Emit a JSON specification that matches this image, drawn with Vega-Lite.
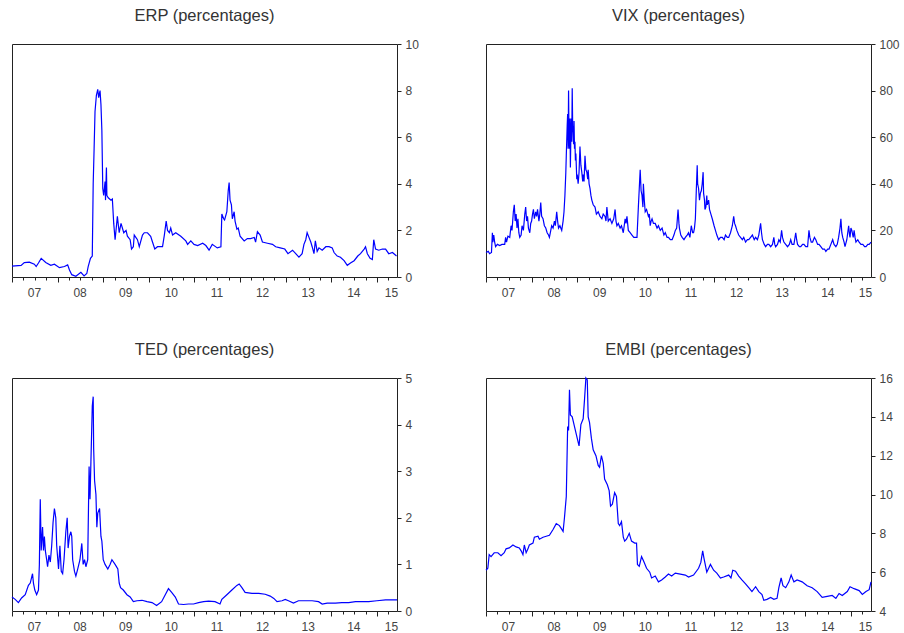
{
  "$schema": "https://vega.github.io/schema/vega-lite/v6.json",
  "padding": {"left": 9, "top": 7, "right": 5, "bottom": 5},
  "background": "white",
  "config": {
    "font": "Liberation Sans",
    "view": {"stroke": "#222222", "strokeWidth": 1},
    "axis": {"grid": false, "domain": false, "labelFont": "Liberation Sans", "labelFontSize": 12, "labelColor": "#444444", "tickColor": "#222222", "tickWidth": 1},
    "title": {"fontSize": 16.5, "fontWeight": "normal", "color": "#333333", "font": "Liberation Sans", "offset": 14, "anchor": "middle"},
    "line": {"color": "#0000ff", "strokeWidth": 1.2, "clip": true}
  },
  "datasets": {
    "erp": [
      {"t":2007.00,"v":0.47},{"t":2007.20,"v":0.5},{"t":2007.27,"v":0.62},{"t":2007.38,"v":0.64},{"t":2007.49,"v":0.55},{"t":2007.53,"v":0.45},{"t":2007.58,"v":0.6},{"t":2007.64,"v":0.8},{"t":2007.74,"v":0.62},{"t":2007.85,"v":0.5},{"t":2007.93,"v":0.55},{"t":2008.04,"v":0.4},{"t":2008.15,"v":0.45},{"t":2008.22,"v":0.52},{"t":2008.26,"v":0.3},{"t":2008.31,"v":0.1},{"t":2008.40,"v":0.03},{"t":2008.51,"v":0.2},{"t":2008.58,"v":0.05},{"t":2008.64,"v":0.15},{"t":2008.67,"v":0.45},{"t":2008.72,"v":0.8},{"t":2008.76,"v":0.9},{"t":2008.78,"v":4.0},{"t":2008.80,"v":5.5},{"t":2008.82,"v":7.1},{"t":2008.85,"v":7.8},{"t":2008.88,"v":8.05},{"t":2008.90,"v":7.7},{"t":2008.93,"v":8.0},{"t":2008.95,"v":7.4},{"t":2008.97,"v":6.3},{"t":2008.99,"v":3.8},{"t":2009.01,"v":3.5},{"t":2009.04,"v":4.1},{"t":2009.05,"v":3.3},{"t":2009.07,"v":4.7},{"t":2009.08,"v":3.5},{"t":2009.11,"v":3.4},{"t":2009.17,"v":3.3},{"t":2009.20,"v":3.35},{"t":2009.23,"v":2.3},{"t":2009.26,"v":1.6},{"t":2009.31,"v":2.6},{"t":2009.35,"v":1.9},{"t":2009.39,"v":2.3},{"t":2009.45,"v":1.9},{"t":2009.50,"v":2.0},{"t":2009.53,"v":1.75},{"t":2009.59,"v":1.6},{"t":2009.62,"v":1.2},{"t":2009.66,"v":1.3},{"t":2009.68,"v":1.8},{"t":2009.75,"v":1.6},{"t":2009.79,"v":1.3},{"t":2009.86,"v":1.8},{"t":2009.90,"v":1.9},{"t":2009.97,"v":1.9},{"t":2010.04,"v":1.75},{"t":2010.08,"v":1.5},{"t":2010.13,"v":1.2},{"t":2010.19,"v":1.3},{"t":2010.30,"v":1.3},{"t":2010.34,"v":1.8},{"t":2010.38,"v":2.4},{"t":2010.41,"v":2.0},{"t":2010.45,"v":1.9},{"t":2010.48,"v":2.1},{"t":2010.52,"v":1.8},{"t":2010.59,"v":1.9},{"t":2010.70,"v":1.75},{"t":2010.81,"v":1.55},{"t":2010.85,"v":1.4},{"t":2010.92,"v":1.55},{"t":2010.99,"v":1.4},{"t":2011.07,"v":1.35},{"t":2011.18,"v":1.45},{"t":2011.25,"v":1.35},{"t":2011.32,"v":1.15},{"t":2011.39,"v":1.4},{"t":2011.50,"v":1.25},{"t":2011.58,"v":1.3},{"t":2011.60,"v":2.7},{"t":2011.64,"v":2.5},{"t":2011.66,"v":2.45},{"t":2011.71,"v":2.8},{"t":2011.74,"v":3.7},{"t":2011.76,"v":4.05},{"t":2011.78,"v":3.3},{"t":2011.81,"v":3.1},{"t":2011.83,"v":2.5},{"t":2011.87,"v":2.8},{"t":2011.89,"v":2.4},{"t":2011.93,"v":2.05},{"t":2011.96,"v":2.1},{"t":2012.00,"v":1.75},{"t":2012.09,"v":1.55},{"t":2012.16,"v":1.65},{"t":2012.23,"v":1.65},{"t":2012.31,"v":1.7},{"t":2012.34,"v":1.5},{"t":2012.38,"v":1.95},{"t":2012.44,"v":1.8},{"t":2012.49,"v":1.5},{"t":2012.60,"v":1.45},{"t":2012.71,"v":1.4},{"t":2012.78,"v":1.3},{"t":2012.88,"v":1.25},{"t":2012.98,"v":1.2},{"t":2013.05,"v":1.0},{"t":2013.15,"v":1.15},{"t":2013.22,"v":1.0},{"t":2013.29,"v":0.85},{"t":2013.36,"v":1.0},{"t":2013.40,"v":1.4},{"t":2013.44,"v":1.6},{"t":2013.47,"v":1.9},{"t":2013.51,"v":1.7},{"t":2013.55,"v":1.5},{"t":2013.58,"v":1.3},{"t":2013.62,"v":1.0},{"t":2013.65,"v":1.55},{"t":2013.69,"v":1.1},{"t":2013.73,"v":1.25},{"t":2013.80,"v":1.15},{"t":2013.88,"v":1.3},{"t":2013.95,"v":1.3},{"t":2014.02,"v":1.25},{"t":2014.06,"v":1.05},{"t":2014.13,"v":0.9},{"t":2014.20,"v":0.85},{"t":2014.28,"v":0.7},{"t":2014.35,"v":0.5},{"t":2014.42,"v":0.6},{"t":2014.50,"v":0.7},{"t":2014.58,"v":0.9},{"t":2014.64,"v":1.0},{"t":2014.72,"v":1.2},{"t":2014.75,"v":1.3},{"t":2014.79,"v":1.0},{"t":2014.85,"v":0.8},{"t":2014.90,"v":0.75},{"t":2014.93,"v":1.6},{"t":2014.97,"v":1.2},{"t":2015.04,"v":1.15},{"t":2015.12,"v":1.2},{"t":2015.19,"v":1.2},{"t":2015.26,"v":1.0},{"t":2015.34,"v":1.05},{"t":2015.43,"v":0.9}
    ],
    "vix": [
      {"t":2007.00,"v":10.5},{"t":2007.05,"v":11},{"t":2007.08,"v":10},{"t":2007.12,"v":10.5},{"t":2007.14,"v":19},{"t":2007.15,"v":15},{"t":2007.17,"v":18},{"t":2007.19,"v":15},{"t":2007.21,"v":13},{"t":2007.25,"v":14},{"t":2007.30,"v":13.5},{"t":2007.35,"v":14},{"t":2007.41,"v":14},{"t":2007.43,"v":17},{"t":2007.45,"v":15},{"t":2007.48,"v":17.5},{"t":2007.52,"v":17},{"t":2007.55,"v":22},{"t":2007.57,"v":20},{"t":2007.60,"v":28},{"t":2007.62,"v":31},{"t":2007.64,"v":24},{"t":2007.66,"v":27},{"t":2007.68,"v":21},{"t":2007.70,"v":25},{"t":2007.72,"v":19},{"t":2007.74,"v":17},{"t":2007.77,"v":18},{"t":2007.79,"v":22},{"t":2007.82,"v":20},{"t":2007.85,"v":27},{"t":2007.87,"v":30},{"t":2007.89,"v":24},{"t":2007.91,"v":26},{"t":2007.93,"v":21},{"t":2007.96,"v":19},{"t":2007.98,"v":23},{"t":2008.00,"v":24},{"t":2008.02,"v":27},{"t":2008.04,"v":29},{"t":2008.06,"v":25},{"t":2008.09,"v":28},{"t":2008.11,"v":26},{"t":2008.13,"v":29},{"t":2008.16,"v":24},{"t":2008.18,"v":27},{"t":2008.20,"v":32},{"t":2008.22,"v":26},{"t":2008.25,"v":25},{"t":2008.28,"v":22},{"t":2008.31,"v":21},{"t":2008.34,"v":19},{"t":2008.37,"v":18},{"t":2008.39,"v":17},{"t":2008.42,"v":20},{"t":2008.44,"v":22},{"t":2008.47,"v":21},{"t":2008.50,"v":24},{"t":2008.52,"v":22},{"t":2008.55,"v":28},{"t":2008.57,"v":24},{"t":2008.59,"v":21},{"t":2008.62,"v":22},{"t":2008.66,"v":20},{"t":2008.69,"v":24},{"t":2008.71,"v":28},{"t":2008.73,"v":35},{"t":2008.75,"v":45},{"t":2008.76,"v":52},{"t":2008.78,"v":65},{"t":2008.79,"v":70},{"t":2008.80,"v":55},{"t":2008.81,"v":80},{"t":2008.82,"v":60},{"t":2008.83,"v":55},{"t":2008.84,"v":68},{"t":2008.85,"v":47},{"t":2008.86,"v":60},{"t":2008.87,"v":68},{"t":2008.88,"v":58},{"t":2008.89,"v":81},{"t":2008.90,"v":65},{"t":2008.91,"v":62},{"t":2008.92,"v":57},{"t":2008.93,"v":67},{"t":2008.94,"v":55},{"t":2008.95,"v":58},{"t":2008.96,"v":50},{"t":2008.97,"v":53},{"t":2008.99,"v":42},{"t":2009.00,"v":44},{"t":2009.02,"v":40},{"t":2009.04,"v":45},{"t":2009.06,"v":56},{"t":2009.08,"v":48},{"t":2009.10,"v":45},{"t":2009.12,"v":41},{"t":2009.13,"v":44},{"t":2009.15,"v":41},{"t":2009.17,"v":52},{"t":2009.19,"v":46},{"t":2009.21,"v":45},{"t":2009.23,"v":42},{"t":2009.24,"v":46},{"t":2009.26,"v":40},{"t":2009.28,"v":38},{"t":2009.30,"v":35},{"t":2009.32,"v":33},{"t":2009.35,"v":31},{"t":2009.39,"v":30},{"t":2009.42,"v":27},{"t":2009.46,"v":28},{"t":2009.50,"v":26},{"t":2009.54,"v":25},{"t":2009.57,"v":27},{"t":2009.61,"v":26},{"t":2009.63,"v":24},{"t":2009.65,"v":30},{"t":2009.68,"v":24},{"t":2009.72,"v":25},{"t":2009.76,"v":23},{"t":2009.80,"v":25},{"t":2009.83,"v":29},{"t":2009.85,"v":24},{"t":2009.87,"v":22},{"t":2009.90,"v":23},{"t":2009.94,"v":21},{"t":2009.97,"v":22},{"t":2010.01,"v":19},{"t":2010.03,"v":22},{"t":2010.05,"v":25},{"t":2010.07,"v":23},{"t":2010.09,"v":26},{"t":2010.12,"v":20},{"t":2010.16,"v":19},{"t":2010.20,"v":18},{"t":2010.24,"v":17},{"t":2010.27,"v":17},{"t":2010.31,"v":17},{"t":2010.34,"v":30},{"t":2010.36,"v":38},{"t":2010.38,"v":46},{"t":2010.40,"v":37},{"t":2010.42,"v":35},{"t":2010.44,"v":30},{"t":2010.45,"v":40},{"t":2010.47,"v":33},{"t":2010.49,"v":28},{"t":2010.52,"v":29},{"t":2010.56,"v":26},{"t":2010.58,"v":27},{"t":2010.60,"v":22},{"t":2010.62,"v":24},{"t":2010.64,"v":25},{"t":2010.67,"v":23},{"t":2010.71,"v":23},{"t":2010.75,"v":21},{"t":2010.78,"v":22},{"t":2010.82,"v":20},{"t":2010.86,"v":21},{"t":2010.90,"v":18},{"t":2010.93,"v":19},{"t":2010.97,"v":17},{"t":2011.00,"v":17},{"t":2011.04,"v":16},{"t":2011.08,"v":16},{"t":2011.12,"v":18},{"t":2011.15,"v":20},{"t":2011.18,"v":21},{"t":2011.21,"v":29},{"t":2011.23,"v":23},{"t":2011.24,"v":21},{"t":2011.27,"v":18},{"t":2011.30,"v":17},{"t":2011.34,"v":16},{"t":2011.37,"v":17},{"t":2011.41,"v":18},{"t":2011.44,"v":19},{"t":2011.47,"v":17},{"t":2011.50,"v":22},{"t":2011.53,"v":19},{"t":2011.55,"v":19},{"t":2011.57,"v":21},{"t":2011.59,"v":25},{"t":2011.61,"v":37},{"t":2011.63,"v":48},{"t":2011.64,"v":40},{"t":2011.66,"v":38},{"t":2011.68,"v":33},{"t":2011.70,"v":36},{"t":2011.72,"v":37},{"t":2011.74,"v":40},{"t":2011.76,"v":45},{"t":2011.77,"v":36},{"t":2011.79,"v":33},{"t":2011.80,"v":29},{"t":2011.82,"v":30},{"t":2011.84,"v":35},{"t":2011.85,"v":31},{"t":2011.88,"v":33},{"t":2011.90,"v":29},{"t":2011.93,"v":27},{"t":2011.96,"v":25},{"t":2012.00,"v":22},{"t":2012.03,"v":20},{"t":2012.06,"v":18},{"t":2012.10,"v":16},{"t":2012.14,"v":17},{"t":2012.18,"v":17},{"t":2012.22,"v":16},{"t":2012.25,"v":18},{"t":2012.29,"v":17},{"t":2012.32,"v":17},{"t":2012.36,"v":19},{"t":2012.40,"v":22},{"t":2012.43,"v":26},{"t":2012.45,"v":23},{"t":2012.47,"v":22},{"t":2012.50,"v":20},{"t":2012.54,"v":18},{"t":2012.58,"v":17},{"t":2012.62,"v":16},{"t":2012.65,"v":17},{"t":2012.69,"v":15},{"t":2012.73,"v":16},{"t":2012.76,"v":16},{"t":2012.80,"v":17},{"t":2012.84,"v":18},{"t":2012.88,"v":16},{"t":2012.91,"v":17},{"t":2012.95,"v":16},{"t":2012.98,"v":18},{"t":2013.02,"v":23},{"t":2013.04,"v":19},{"t":2013.06,"v":16},{"t":2013.10,"v":14},{"t":2013.13,"v":13},{"t":2013.17,"v":14},{"t":2013.20,"v":14},{"t":2013.24,"v":13},{"t":2013.28,"v":14},{"t":2013.31,"v":17},{"t":2013.33,"v":14},{"t":2013.35,"v":13},{"t":2013.39,"v":14},{"t":2013.42,"v":16},{"t":2013.45,"v":15},{"t":2013.48,"v":20},{"t":2013.50,"v":17},{"t":2013.53,"v":15},{"t":2013.57,"v":14},{"t":2013.61,"v":13},{"t":2013.65,"v":14},{"t":2013.68,"v":16},{"t":2013.71,"v":14},{"t":2013.75,"v":14},{"t":2013.79,"v":19},{"t":2013.81,"v":16},{"t":2013.83,"v":14},{"t":2013.87,"v":13},{"t":2013.90,"v":13},{"t":2013.94,"v":14},{"t":2013.97,"v":14},{"t":2014.01,"v":13},{"t":2014.05,"v":13},{"t":2014.08,"v":20},{"t":2014.10,"v":17},{"t":2014.13,"v":15},{"t":2014.16,"v":15},{"t":2014.20,"v":17},{"t":2014.23,"v":16},{"t":2014.27,"v":14},{"t":2014.30,"v":14},{"t":2014.34,"v":13},{"t":2014.38,"v":12},{"t":2014.42,"v":12},{"t":2014.45,"v":11},{"t":2014.49,"v":12},{"t":2014.52,"v":12},{"t":2014.56,"v":14},{"t":2014.60,"v":16},{"t":2014.63,"v":14},{"t":2014.67,"v":13},{"t":2014.70,"v":14},{"t":2014.73,"v":17},{"t":2014.76,"v":21},{"t":2014.78,"v":25},{"t":2014.80,"v":19},{"t":2014.82,"v":17},{"t":2014.85,"v":15},{"t":2014.87,"v":13},{"t":2014.91,"v":16},{"t":2014.95,"v":22},{"t":2014.97,"v":18},{"t":2014.98,"v":17},{"t":2015.00,"v":21},{"t":2015.02,"v":20},{"t":2015.05,"v":17},{"t":2015.07,"v":20},{"t":2015.09,"v":17},{"t":2015.11,"v":15},{"t":2015.15,"v":16},{"t":2015.18,"v":15},{"t":2015.22,"v":14},{"t":2015.26,"v":14},{"t":2015.30,"v":13},{"t":2015.33,"v":13},{"t":2015.37,"v":14},{"t":2015.40,"v":14},{"t":2015.44,"v":15}
    ],
    "ted": [
      {"t":2007.00,"v":0.3},{"t":2007.07,"v":0.25},{"t":2007.14,"v":0.18},{"t":2007.21,"v":0.28},{"t":2007.29,"v":0.35},{"t":2007.36,"v":0.55},{"t":2007.40,"v":0.6},{"t":2007.45,"v":0.8},{"t":2007.47,"v":0.6},{"t":2007.50,"v":0.45},{"t":2007.54,"v":0.35},{"t":2007.58,"v":0.45},{"t":2007.60,"v":1.0},{"t":2007.62,"v":2.4},{"t":2007.64,"v":1.3},{"t":2007.67,"v":1.8},{"t":2007.69,"v":1.3},{"t":2007.71,"v":1.6},{"t":2007.73,"v":1.3},{"t":2007.76,"v":1.1},{"t":2007.78,"v":0.95},{"t":2007.81,"v":1.2},{"t":2007.84,"v":1.05},{"t":2007.87,"v":1.4},{"t":2007.90,"v":1.9},{"t":2007.93,"v":2.2},{"t":2007.96,"v":2.0},{"t":2007.98,"v":1.4},{"t":2008.02,"v":0.9},{"t":2008.05,"v":1.4},{"t":2008.08,"v":0.85},{"t":2008.11,"v":0.8},{"t":2008.14,"v":1.1},{"t":2008.18,"v":1.7},{"t":2008.21,"v":2.0},{"t":2008.23,"v":1.35},{"t":2008.26,"v":1.6},{"t":2008.29,"v":1.7},{"t":2008.31,"v":1.6},{"t":2008.33,"v":1.1},{"t":2008.37,"v":0.85},{"t":2008.40,"v":0.75},{"t":2008.44,"v":0.9},{"t":2008.49,"v":1.1},{"t":2008.53,"v":1.45},{"t":2008.56,"v":1.0},{"t":2008.59,"v":1.1},{"t":2008.62,"v":0.95},{"t":2008.66,"v":1.1},{"t":2008.69,"v":3.1},{"t":2008.71,"v":2.4},{"t":2008.73,"v":3.2},{"t":2008.76,"v":4.4},{"t":2008.78,"v":4.6},{"t":2008.79,"v":3.5},{"t":2008.81,"v":2.8},{"t":2008.84,"v":2.5},{"t":2008.86,"v":1.8},{"t":2008.88,"v":2.1},{"t":2008.92,"v":2.2},{"t":2008.95,"v":1.6},{"t":2008.97,"v":1.5},{"t":2009.00,"v":1.1},{"t":2009.04,"v":1.0},{"t":2009.10,"v":0.9},{"t":2009.15,"v":1.0},{"t":2009.19,"v":1.1},{"t":2009.26,"v":1.0},{"t":2009.32,"v":0.9},{"t":2009.35,"v":0.6},{"t":2009.38,"v":0.5},{"t":2009.44,"v":0.45},{"t":2009.52,"v":0.35},{"t":2009.59,"v":0.3},{"t":2009.66,"v":0.2},{"t":2009.74,"v":0.22},{"t":2009.85,"v":0.23},{"t":2009.96,"v":0.2},{"t":2010.07,"v":0.18},{"t":2010.17,"v":0.12},{"t":2010.28,"v":0.2},{"t":2010.36,"v":0.35},{"t":2010.43,"v":0.48},{"t":2010.50,"v":0.4},{"t":2010.58,"v":0.3},{"t":2010.65,"v":0.15},{"t":2010.76,"v":0.14},{"t":2010.87,"v":0.15},{"t":2010.98,"v":0.15},{"t":2011.09,"v":0.18},{"t":2011.20,"v":0.2},{"t":2011.31,"v":0.21},{"t":2011.45,"v":0.2},{"t":2011.56,"v":0.15},{"t":2011.60,"v":0.25},{"t":2011.71,"v":0.35},{"t":2011.82,"v":0.45},{"t":2011.93,"v":0.55},{"t":2011.98,"v":0.58},{"t":2012.04,"v":0.5},{"t":2012.11,"v":0.4},{"t":2012.26,"v":0.38},{"t":2012.41,"v":0.38},{"t":2012.55,"v":0.36},{"t":2012.66,"v":0.32},{"t":2012.74,"v":0.27},{"t":2012.81,"v":0.2},{"t":2012.92,"v":0.22},{"t":2012.99,"v":0.25},{"t":2013.06,"v":0.22},{"t":2013.17,"v":0.17},{"t":2013.28,"v":0.22},{"t":2013.43,"v":0.22},{"t":2013.58,"v":0.22},{"t":2013.72,"v":0.2},{"t":2013.80,"v":0.15},{"t":2013.91,"v":0.17},{"t":2014.09,"v":0.17},{"t":2014.23,"v":0.18},{"t":2014.38,"v":0.18},{"t":2014.53,"v":0.2},{"t":2014.67,"v":0.2},{"t":2014.82,"v":0.2},{"t":2015.00,"v":0.22},{"t":2015.19,"v":0.24},{"t":2015.44,"v":0.24}
    ],
    "embi": [
      {"t":2007.00,"v":6.1},{"t":2007.04,"v":6.2},{"t":2007.07,"v":6.9},{"t":2007.11,"v":6.8},{"t":2007.18,"v":7.0},{"t":2007.26,"v":7.0},{"t":2007.33,"v":6.85},{"t":2007.40,"v":7.0},{"t":2007.44,"v":7.2},{"t":2007.51,"v":7.25},{"t":2007.59,"v":7.4},{"t":2007.66,"v":7.3},{"t":2007.73,"v":7.25},{"t":2007.77,"v":7.1},{"t":2007.81,"v":6.9},{"t":2007.84,"v":7.4},{"t":2007.88,"v":7.0},{"t":2007.92,"v":7.2},{"t":2007.95,"v":7.4},{"t":2008.03,"v":7.5},{"t":2008.06,"v":7.8},{"t":2008.14,"v":7.85},{"t":2008.17,"v":7.7},{"t":2008.25,"v":7.8},{"t":2008.32,"v":7.85},{"t":2008.39,"v":7.9},{"t":2008.47,"v":8.2},{"t":2008.54,"v":8.5},{"t":2008.61,"v":8.4},{"t":2008.69,"v":8.1},{"t":2008.72,"v":8.8},{"t":2008.76,"v":9.9},{"t":2008.79,"v":13.5},{"t":2008.81,"v":13.3},{"t":2008.83,"v":15.4},{"t":2008.85,"v":14.1},{"t":2008.89,"v":14.0},{"t":2008.94,"v":13.5},{"t":2008.98,"v":13.1},{"t":2009.02,"v":12.7},{"t":2009.04,"v":12.5},{"t":2009.08,"v":13.6},{"t":2009.13,"v":13.9},{"t":2009.16,"v":14.9},{"t":2009.19,"v":16.0},{"t":2009.22,"v":15.9},{"t":2009.24,"v":14.0},{"t":2009.27,"v":13.7},{"t":2009.31,"v":12.9},{"t":2009.35,"v":12.3},{"t":2009.41,"v":12.0},{"t":2009.46,"v":11.5},{"t":2009.49,"v":11.4},{"t":2009.53,"v":12.0},{"t":2009.57,"v":11.6},{"t":2009.60,"v":10.8},{"t":2009.66,"v":10.5},{"t":2009.70,"v":10.2},{"t":2009.73,"v":9.4},{"t":2009.77,"v":9.5},{"t":2009.82,"v":10.1},{"t":2009.86,"v":9.9},{"t":2009.90,"v":8.5},{"t":2009.93,"v":8.4},{"t":2009.97,"v":8.6},{"t":2010.01,"v":7.8},{"t":2010.04,"v":7.6},{"t":2010.08,"v":7.7},{"t":2010.14,"v":8.0},{"t":2010.19,"v":7.6},{"t":2010.26,"v":7.5},{"t":2010.30,"v":7.5},{"t":2010.32,"v":6.4},{"t":2010.36,"v":6.3},{"t":2010.41,"v":6.8},{"t":2010.45,"v":6.6},{"t":2010.52,"v":6.2},{"t":2010.59,"v":6.0},{"t":2010.63,"v":5.7},{"t":2010.71,"v":5.8},{"t":2010.78,"v":5.5},{"t":2010.85,"v":5.6},{"t":2010.93,"v":5.75},{"t":2011.00,"v":5.9},{"t":2011.07,"v":5.8},{"t":2011.15,"v":5.95},{"t":2011.26,"v":5.9},{"t":2011.37,"v":5.85},{"t":2011.44,"v":5.75},{"t":2011.55,"v":5.85},{"t":2011.66,"v":6.2},{"t":2011.71,"v":6.5},{"t":2011.75,"v":7.1},{"t":2011.78,"v":6.7},{"t":2011.84,"v":6.0},{"t":2011.92,"v":6.4},{"t":2011.99,"v":6.1},{"t":2012.06,"v":5.95},{"t":2012.14,"v":5.7},{"t":2012.21,"v":5.75},{"t":2012.32,"v":5.85},{"t":2012.37,"v":5.7},{"t":2012.41,"v":6.1},{"t":2012.47,"v":6.05},{"t":2012.54,"v":5.8},{"t":2012.61,"v":5.6},{"t":2012.69,"v":5.4},{"t":2012.76,"v":5.2},{"t":2012.83,"v":5.0},{"t":2012.91,"v":5.25},{"t":2012.98,"v":5.0},{"t":2013.05,"v":4.85},{"t":2013.09,"v":4.55},{"t":2013.16,"v":4.6},{"t":2013.24,"v":4.7},{"t":2013.31,"v":4.6},{"t":2013.38,"v":4.65},{"t":2013.42,"v":5.2},{"t":2013.47,"v":5.7},{"t":2013.51,"v":5.3},{"t":2013.57,"v":5.2},{"t":2013.64,"v":5.5},{"t":2013.69,"v":5.85},{"t":2013.75,"v":5.5},{"t":2013.82,"v":5.6},{"t":2013.93,"v":5.5},{"t":2014.04,"v":5.3},{"t":2014.15,"v":5.2},{"t":2014.26,"v":5.0},{"t":2014.37,"v":4.7},{"t":2014.48,"v":4.75},{"t":2014.59,"v":4.8},{"t":2014.67,"v":4.65},{"t":2014.74,"v":4.9},{"t":2014.81,"v":4.8},{"t":2014.92,"v":5.0},{"t":2014.98,"v":5.25},{"t":2015.07,"v":5.15},{"t":2015.18,"v":5.05},{"t":2015.25,"v":4.85},{"t":2015.33,"v":5.0},{"t":2015.40,"v":5.1},{"t":2015.44,"v":5.5}
    ]
  },
  "columns": 2,
  "bounds": "flush",
  "spacing": {"row": 101, "column": 89},
  "concat": [
    {
      "width": 385, "height": 233,
      "title": "ERP (percentages)",
      "data": {"name": "erp"},
      "mark": {"type": "line"},
      "encoding": {
        "x": {"field": "t", "type": "quantitative", "title": null,
          "scale": {"domain": [2007, 2015.44], "nice": false, "zero": false},
          "axis": {"values": [2007,2007.25,2007.5,2007.75,2008,2008.25,2008.5,2008.75,2009,2009.25,2009.5,2009.75,2010,2010.25,2010.5,2010.75,2011,2011.25,2011.5,2011.75,2012,2012.25,2012.5,2012.75,2013,2013.25,2013.5,2013.75,2014,2014.25,2014.5,2014.75,2015,2015.25],
            "labelExpr": "datum.value % 1 == 0 ? format(datum.value % 100, '02d') : ''",
            "labelOffset": {"condition": {"test": "datum.value == 2015", "value": 14}, "value": 22},
            "tickSize": {"condition": {"test": "datum.value % 1 == 0", "value": 5}, "value": 3},
            "labelFlush": false, "labelOverlap": false, "labelPadding": 5}},
        "y": {"field": "v", "type": "quantitative", "title": null,
          "scale": {"domain": [0, 10], "nice": false},
          "axis": {"orient": "right", "values": [0,2,4,6,8,10], "tickSize": 4, "labelPadding": 4, "labelFlush": false}}
      }
    },
    {
      "width": 385, "height": 233,
      "title": "VIX (percentages)",
      "data": {"name": "vix"},
      "mark": {"type": "line"},
      "encoding": {
        "x": {"field": "t", "type": "quantitative", "title": null,
          "scale": {"domain": [2007, 2015.44], "nice": false, "zero": false},
          "axis": {"values": [2007,2007.25,2007.5,2007.75,2008,2008.25,2008.5,2008.75,2009,2009.25,2009.5,2009.75,2010,2010.25,2010.5,2010.75,2011,2011.25,2011.5,2011.75,2012,2012.25,2012.5,2012.75,2013,2013.25,2013.5,2013.75,2014,2014.25,2014.5,2014.75,2015,2015.25],
            "labelExpr": "datum.value % 1 == 0 ? format(datum.value % 100, '02d') : ''",
            "labelOffset": {"condition": {"test": "datum.value == 2015", "value": 14}, "value": 22},
            "tickSize": {"condition": {"test": "datum.value % 1 == 0", "value": 5}, "value": 3},
            "labelFlush": false, "labelOverlap": false, "labelPadding": 5}},
        "y": {"field": "v", "type": "quantitative", "title": null,
          "scale": {"domain": [0, 100], "nice": false},
          "axis": {"orient": "right", "values": [0,20,40,60,80,100], "tickSize": 4, "labelPadding": 4, "labelFlush": false}}
      }
    },
    {
      "width": 385, "height": 233,
      "title": "TED (percentages)",
      "data": {"name": "ted"},
      "mark": {"type": "line"},
      "encoding": {
        "x": {"field": "t", "type": "quantitative", "title": null,
          "scale": {"domain": [2007, 2015.44], "nice": false, "zero": false},
          "axis": {"values": [2007,2007.25,2007.5,2007.75,2008,2008.25,2008.5,2008.75,2009,2009.25,2009.5,2009.75,2010,2010.25,2010.5,2010.75,2011,2011.25,2011.5,2011.75,2012,2012.25,2012.5,2012.75,2013,2013.25,2013.5,2013.75,2014,2014.25,2014.5,2014.75,2015,2015.25],
            "labelExpr": "datum.value % 1 == 0 ? format(datum.value % 100, '02d') : ''",
            "labelOffset": {"condition": {"test": "datum.value == 2015", "value": 14}, "value": 22},
            "tickSize": {"condition": {"test": "datum.value % 1 == 0", "value": 5}, "value": 3},
            "labelFlush": false, "labelOverlap": false, "labelPadding": 5}},
        "y": {"field": "v", "type": "quantitative", "title": null,
          "scale": {"domain": [0, 5], "nice": false},
          "axis": {"orient": "right", "values": [0,1,2,3,4,5], "tickSize": 4, "labelPadding": 4, "labelFlush": false}}
      }
    },
    {
      "width": 385, "height": 233,
      "title": "EMBI (percentages)",
      "data": {"name": "embi"},
      "mark": {"type": "line"},
      "encoding": {
        "x": {"field": "t", "type": "quantitative", "title": null,
          "scale": {"domain": [2007, 2015.44], "nice": false, "zero": false},
          "axis": {"values": [2007,2007.25,2007.5,2007.75,2008,2008.25,2008.5,2008.75,2009,2009.25,2009.5,2009.75,2010,2010.25,2010.5,2010.75,2011,2011.25,2011.5,2011.75,2012,2012.25,2012.5,2012.75,2013,2013.25,2013.5,2013.75,2014,2014.25,2014.5,2014.75,2015,2015.25],
            "labelExpr": "datum.value % 1 == 0 ? format(datum.value % 100, '02d') : ''",
            "labelOffset": {"condition": {"test": "datum.value == 2015", "value": 14}, "value": 22},
            "tickSize": {"condition": {"test": "datum.value % 1 == 0", "value": 5}, "value": 3},
            "labelFlush": false, "labelOverlap": false, "labelPadding": 5}},
        "y": {"field": "v", "type": "quantitative", "title": null,
          "scale": {"domain": [4, 16], "nice": false, "zero": false},
          "axis": {"orient": "right", "values": [4,6,8,10,12,14,16], "tickSize": 4, "labelPadding": 4, "labelFlush": false}}
      }
    }
  ]
}
